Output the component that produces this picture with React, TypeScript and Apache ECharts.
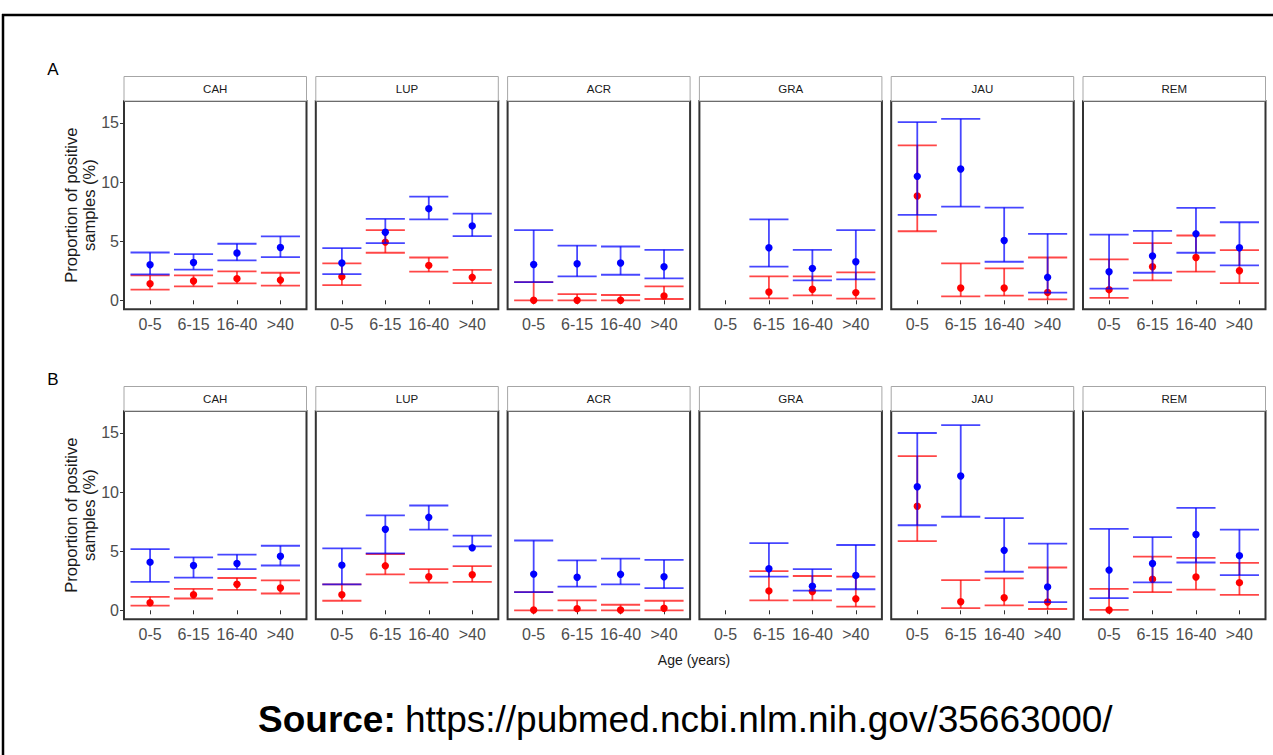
import React, { useEffect, useRef } from 'react';
import * as echarts from 'echarts';

const ageGroups = ['0-5', '6-15', '16-40', '>40'];
const regions = ['CAH', 'LUP', 'ACR', 'GRA', 'JAU', 'REM'];
const yTickValues = [0, 5, 10, 15];
const rowLabels = ['A', 'B'];

// each entry: [estimate, lower, upper] per age group (null = no data)
// Panel A
const aBlueCAH = [[3.0, 2.19, 4.04], [3.2, 2.6, 3.9], [4.0, 3.37, 4.78], [4.47, 3.65, 5.4]];
const aRedCAH = [[1.4, 0.9, 2.1], [1.63, 1.18, 2.1], [1.83, 1.43, 2.44], [1.71, 1.24, 2.33]];
const aBlueLUP = [[3.15, 2.22, 4.41], [5.76, 4.83, 6.88], [7.75, 6.85, 8.76], [6.29, 5.42, 7.33]];
const aRedLUP = [[2.0, 1.29, 3.12], [4.92, 4.02, 5.93], [2.95, 2.42, 3.62], [1.94, 1.46, 2.58]];
const aBlueACR = [[3.03, 1.54, 5.93], [3.09, 2.02, 4.63], [3.15, 2.16, 4.55], [2.84, 1.85, 4.27]];
const aRedACR = [[0.0, 0.0, 1.54], [0.0, 0.0, 0.53], [0.0, 0.0, 0.45], [0.37, 0.11, 1.18]];
const aBlueGRA = [null, [4.44, 2.84, 6.85], [2.7, 1.69, 4.27], [3.26, 1.77, 5.93]];
const aRedGRA = [null, [0.7, 0.17, 2.02], [0.93, 0.42, 2.02], [0.65, 0.14, 2.36]];
const aBlueJAU = [[10.48, 7.22, 15.06], [11.1, 7.92, 15.34], [5.06, 3.26, 7.84], [1.94, 0.65, 5.62]];
const aRedJAU = [[8.82, 5.84, 13.1], [1.04, 0.34, 3.12], [1.04, 0.39, 2.7], [0.67, 0.08, 3.62]];
const aBlueREM = [[2.42, 0.98, 5.56], [3.74, 2.33, 5.87], [5.62, 4.02, 7.81], [4.44, 2.95, 6.6]];
const aRedREM = [[0.9, 0.2, 3.46], [2.84, 1.69, 4.83], [3.62, 2.42, 5.48], [2.5, 1.46, 4.24]];

// Panel B
const bBlueCAH = [[4.07, 2.4, 5.18], [3.79, 2.76, 4.48], [3.96, 3.48, 4.71], [4.57, 3.79, 5.46]];
const bRedCAH = [[0.64, 0.39, 1.14], [1.31, 1.0, 1.81], [2.2, 1.73, 2.73], [1.89, 1.42, 2.53]];
const bBlueLUP = [[3.82, 2.2, 5.24], [6.85, 4.82, 8.02], [7.86, 6.82, 8.86], [5.28, 5.4, 6.32]];
const bRedLUP = [[1.31, 0.81, 2.2], [3.76, 3.04, 4.76], [2.84, 2.34, 3.48], [3.0, 2.4, 3.73]];
const bBlueACR = [[3.06, 1.53, 5.9], [2.79, 2.0, 4.23], [3.04, 2.2, 4.37], [2.84, 1.87, 4.26]];
const bRedACR = [[0.03, 0.0, 1.53], [0.14, 0.0, 0.84], [0.03, 0.0, 0.47], [0.17, 0.0, 0.81]];
const bBlueGRA = [null, [3.51, 2.84, 5.68], [2.03, 1.67, 3.48], [2.95, 1.78, 5.52]];
const bRedGRA = [null, [1.64, 0.84, 3.31], [1.59, 0.84, 2.9], [0.97, 0.31, 2.84]];
const bBlueJAU = [[10.45, 7.19, 14.99], [11.36, 7.91, 15.65], [5.07, 3.26, 7.8], [1.98, 0.7, 5.63]];
const bRedJAU = [[8.8, 5.85, 13.04], [0.72, 0.19, 2.56], [1.06, 0.42, 2.7], [0.7, 0.11, 3.62]];
const bBlueREM = [[3.4, 1.03, 6.88], [3.96, 2.37, 6.18], [6.41, 4.04, 8.66], [4.62, 2.98, 6.82]];
const bRedREM = [[0.03, 0.03, 1.81], [2.62, 1.53, 4.54], [2.81, 1.75, 4.43], [2.34, 1.31, 4.01]];

const rowsData = [
  [
    [aRedCAH, aBlueCAH], [aRedLUP, aBlueLUP], [aRedACR, aBlueACR],
    [aRedGRA, aBlueGRA], [aRedJAU, aBlueJAU], [aRedREM, aBlueREM],
  ],
  [
    [bRedCAH, bBlueCAH], [bRedLUP, bBlueLUP], [bRedACR, bBlueACR],
    [bRedGRA, bBlueGRA], [bRedJAU, bBlueJAU], [bRedREM, bBlueREM],
  ],
];

const FONT = '"Liberation Sans", Arial, Helvetica, sans-serif';
const PANEL_LEFT0 = 124;
const PANEL_STEP = 191.8;
const PANEL_W = 182.5;
const ROW_TOPS = [101, 411];
const PANEL_H = 208.3;
const STRIP_H = 24.5;

const seriesColors = [
  { point: '#ff0000', line: 'rgba(255,0,0,0.72)' },
  { point: '#0000ff', line: 'rgba(0,0,255,0.72)' },
];

function makeRender(point: string, line: string) {
  return (params: any, api: any) => {
    const x = api.value(0);
    const e = api.value(1);
    const lo = api.value(2);
    const hi = api.value(3);
    const pE = api.coord([x, e]);
    const pL = api.coord([x, lo]);
    const pH = api.coord([x, hi]);
    const half = api.size([0.45, 0])[0];
    const ls = { stroke: line, lineWidth: 1.8 };
    return {
      type: 'group',
      children: [
        { type: 'line', shape: { x1: pE[0], y1: pL[1], x2: pE[0], y2: pH[1] }, style: ls },
        { type: 'line', shape: { x1: pE[0] - half, y1: pL[1], x2: pE[0] + half, y2: pL[1] }, style: ls },
        { type: 'line', shape: { x1: pE[0] - half, y1: pH[1], x2: pE[0] + half, y2: pH[1] }, style: ls },
        { type: 'circle', shape: { cx: pE[0], cy: pE[1], r: 3.7 }, style: { fill: point } },
      ],
    };
  };
}

function buildOption() {
  const grids: any[] = [];
  const xAxes: any[] = [];
  const yAxes: any[] = [];
  const series: any[] = [];
  const graphics: any[] = [];

  // outer frame
  graphics.push({ type: 'line', shape: { x1: 2, y1: 15, x2: 1273, y2: 15 }, style: { stroke: '#000', lineWidth: 2.5 } });
  graphics.push({ type: 'line', shape: { x1: 3, y1: 14, x2: 3, y2: 755 }, style: { stroke: '#000', lineWidth: 2.5 } });

  rowsData.forEach((row, r) => {
    const top = ROW_TOPS[r];
    graphics.push({
      type: 'text', x: 53, y: top - 32, style: { text: rowLabels[r], font: `17px ${FONT}`, fill: '#000', align: 'center', verticalAlign: 'middle' },
    });
    graphics.push({
      type: 'text', x: 80, y: top + PANEL_H / 2, rotation: Math.PI / 2,
      style: { text: 'Proportion of positive\nsamples (%)', font: `16.5px ${FONT}`, fill: '#1a1a1a', align: 'center', verticalAlign: 'middle', lineHeight: 18 },
    });
    row.forEach((pair, c) => {
      const g = grids.length;
      const left = PANEL_LEFT0 + c * PANEL_STEP;
      grids.push({ left, top, width: PANEL_W, height: PANEL_H, show: true, borderColor: '#333333', borderWidth: 2, backgroundColor: '#fff' });
      xAxes.push({
        gridIndex: g, type: 'value', min: 0.4, max: 4.6,
        splitLine: { show: false }, axisLine: { show: false },
        axisTick: { show: true, customValues: [1, 2, 3, 4], length: 4, lineStyle: { color: '#333' } },
        axisLabel: {
          show: true, customValues: [1, 2, 3, 4], formatter: (v: number) => ageGroups[Math.round(v) - 1] ?? '',
          fontSize: 16, color: '#4d4d4d', margin: 7, fontFamily: FONT,
        },
      });
      yAxes.push({
        gridIndex: g, type: 'value', min: -0.76, max: 16.85,
        splitLine: { show: false }, axisLine: { show: false },
        axisTick: { show: c === 0, customValues: yTickValues, length: 4, lineStyle: { color: '#333' } },
        axisLabel: { show: c === 0, customValues: yTickValues, fontSize: 16, color: '#4d4d4d', margin: 5, fontFamily: FONT },
      });
      pair.forEach((arr: any[], s: number) => {
        const data: any[] = [];
        arr.forEach((v: any, k: number) => {
          if (v) data.push([k + 1, v[0], v[1], v[2]]);
        });
        series.push({
          type: 'custom', xAxisIndex: g, yAxisIndex: g, data, clip: false,
          renderItem: makeRender(seriesColors[s].point, seriesColors[s].line),
          encode: { x: 0, y: [1, 2, 3] }, silent: true,
        });
      });
      // strip
      graphics.push({
        type: 'rect', shape: { x: left, y: top - STRIP_H, width: PANEL_W, height: STRIP_H },
        style: { fill: '#ffffff', stroke: '#a6a6a6', lineWidth: 1 },
      });
      graphics.push({
        type: 'text', x: left + PANEL_W / 2, y: top - STRIP_H / 2,
        style: { text: regions[c], font: `11.5px ${FONT}`, fill: '#1a1a1a', align: 'center', verticalAlign: 'middle' },
      });
    });
  });

  graphics.push({
    type: 'text', x: 694, y: 660,
    style: { text: 'Age (years)', font: `14px ${FONT}`, fill: '#1a1a1a', align: 'center', verticalAlign: 'middle' },
  });
  graphics.push({
    type: 'text', x: 258, y: 719,
    style: { text: 'Source:', font: `bold 37px ${FONT}`, fill: '#000', align: 'left', verticalAlign: 'middle' },
  });
  graphics.push({
    type: 'text', x: 405, y: 719,
    style: { text: 'https://pubmed.ncbi.nlm.nih.gov/35663000/', font: `37px ${FONT}`, fill: '#000', align: 'left', verticalAlign: 'middle' },
  });

  return {
    animation: false,
    backgroundColor: '#ffffff',
    grid: grids,
    xAxis: xAxes,
    yAxis: yAxes,
    series,
    graphic: { elements: graphics },
  };
}

export default function App() {
  const ref = useRef<HTMLDivElement>(null);
  useEffect(() => {
    document.body.style.margin = '0';
    if (!ref.current) return;
    const chart = echarts.init(ref.current, undefined, { renderer: 'svg' });
    chart.setOption(buildOption() as any);
    return () => chart.dispose();
  }, []);
  return <div ref={ref} style={{ width: 1273, height: 755, position: 'absolute', left: 0, top: 0 }} />;
}
